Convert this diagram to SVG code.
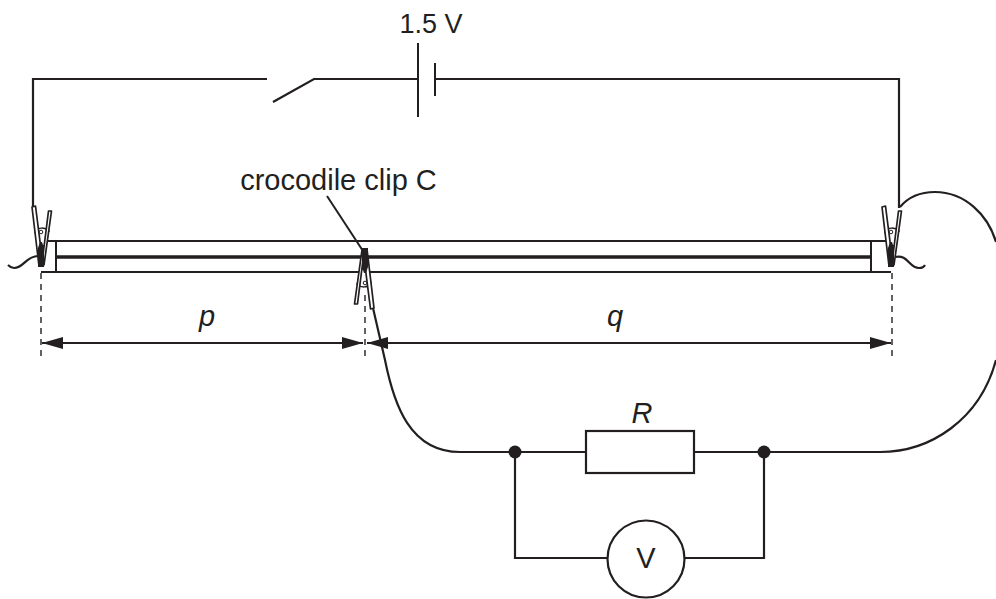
<svg xmlns="http://www.w3.org/2000/svg" width="996" height="599" viewBox="0 0 996 599">
<defs>
<style>
.w{fill:none;stroke:#231f20;stroke-width:2.2}
.r{fill:none;stroke:#231f20;stroke-width:2}
.d{fill:none;stroke:#231f20;stroke-width:1.4;stroke-dasharray:6 5}
.t{font-family:"Liberation Sans",Arial,sans-serif;font-size:29px;fill:#231f20}
.i{font-style:italic}
.arm{fill:#fff;stroke:#231f20;stroke-width:1.7;stroke-linejoin:round}
</style>
<g id="clip">
<path d="M-6,-33 C-3,-38 4,-38 8,-34 C4,-30 8,-26 5,-21 L0,-17 Z" fill="#fff" stroke="#231f20" stroke-width="1.5"/>
<path class="arm" d="M-9,-58 L-5.500,-59 L2,0 L-2,1 Z"/>
<path class="arm" d="M7.500,-54 L10.500,-54 L3,0 L1,-2 Z"/>
<path d="M-3,2 L-3,-17 L-1,-23 L1,-23 L3,-17 L3,2 Z" fill="#231f20"/>
<circle cx="0" cy="-33" r="1.8" fill="#fff" stroke="#231f20" stroke-width="1"/>
</g>
<marker id="ah" markerUnits="userSpaceOnUse" markerWidth="22" markerHeight="14" refX="21" refY="6" orient="auto-start-reverse" viewBox="0 0 22 12"><path d="M0,0 L21,6 L0,12 Z" fill="#231f20"/></marker>
</defs>
<g id="connectors">
<path class="w" d="M33,207 V79 H267"/>
<path class="w" d="M273,102 L314,79 H418"/>
<path class="w" d="M435,79 H899 V208"/>
<path class="w" d="M373,308 L385,360 C394,405 410,452 460,452 H586"/>
<path class="w" d="M694,452 H880 C930,452 980,420 996,360"/>
<path class="w" d="M900,207 C910,195 922,192 935,192 C965,192 988,215 996,242"/>
<path class="w" d="M515,452 V558 H608"/>
<path class="w" d="M684,558 H764 V452"/>
<path class="w" d="M38,256 C26,256 24,268 14,268 C11,268 9,266 8,265"/>
<path class="w" d="M895,257 C908,254 909,268 919,268 C922,268 924,267 925,265"/>
<path class="r" stroke-width="1.4" d="M327,196 L363,251"/>
<path class="d" d="M41,273 V357"/>
<path class="d" d="M365,295 V357"/>
<path class="d" d="M892,273 V357"/>
<line class="r" x1="42" y1="343" x2="363" y2="343" marker-start="url(#ah)" marker-end="url(#ah)" stroke-width="1.5"/>
<line class="r" x1="367" y1="343" x2="891" y2="343" marker-start="url(#ah)" marker-end="url(#ah)" stroke-width="1.5"/>
</g>
<g id="cell">
<line class="r" x1="418" y1="43" x2="418" y2="117"/>
<line class="r" x1="435" y1="63" x2="435" y2="96"/>
<text class="t" x="431" y="33" text-anchor="middle" style="font-size:27px">1.5 V</text>
</g>
<g id="wire">
<path class="r" d="M41,241 H891 M41,272 H891 M56,241 V272 M871,241 V272"/>
<path d="M56,257 H871" fill="none" stroke="#231f20" stroke-width="3.4"/>
</g>
<g id="clip-left"><use href="#clip" transform="translate(41,265)"/></g>
<g id="clip-right"><use href="#clip" transform="translate(891,265)"/></g>
<g id="clip-c"><use href="#clip" transform="translate(365,250) rotate(180)"/></g>
<g id="resistor">
<rect class="w" x="586" y="431" width="108" height="42"/>
<text class="t i" x="642" y="423" text-anchor="middle">R</text>
</g>
<g id="voltmeter">
<circle class="w" cx="646" cy="559" r="38.5"/>
<text class="t" x="646" y="568" text-anchor="middle">V</text>
</g>
<g id="junctions"><circle cx="515" cy="452" r="6.5" fill="#231f20"/><circle cx="764" cy="452" r="6.5" fill="#231f20"/></g>
<g id="labels">
<text class="t" x="338.500" y="190" text-anchor="middle">crocodile clip C</text>
<text class="t i" x="207" y="326" text-anchor="middle">p</text>
<text class="t i" x="615" y="326" text-anchor="middle">q</text>
</g>
</svg>
